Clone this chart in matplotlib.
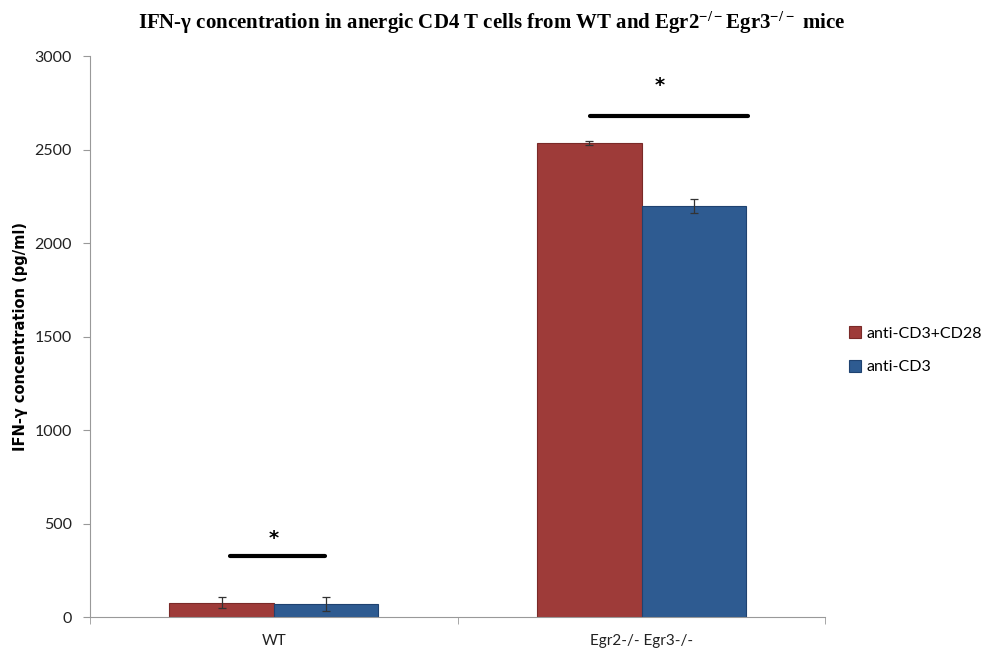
import numpy as np
import matplotlib.pyplot as plt

plt.rcParams['font.family'] = ['Lato', 'DejaVu Sans']

# data
groups = ['WT', 'Egr2-/- Egr3-/-']
series = ['anti-CD3+CD28', 'anti-CD3']
values = {'anti-CD3+CD28': [78, 2536], 'anti-CD3': [70, 2200]}
errors = {'anti-CD3+CD28': [28, 10], 'anti-CD3': [35, 38]}
colors = {'anti-CD3+CD28': '#9E3B39', 'anti-CD3': '#2E5B91'}
edges = {'anti-CD3+CD28': '#7A2A28', 'anti-CD3': '#1F4270'}

# significance bars: (x start, x end, y level) in category units
sig_lines = [(-0.12, 0.14, 326), (0.86, 1.29, 2680)]
sig_stars = [(0.0, 370), (1.05, 2790)]

fig = plt.figure(figsize=(9.83, 6.53), dpi=100)
ax = fig.add_axes([0.0916, 0.055, 0.748, 0.859])

x = np.arange(len(groups))
w = 0.284
for i, s in enumerate(series):
    off = (i - 0.5) * w
    ax.bar(x + off, values[s], w, color=colors[s], edgecolor=edges[s], linewidth=0.8,
           label=s, zorder=2)
    ax.errorbar(x + off, values[s], yerr=errors[s], fmt='none', ecolor='#333333',
                elinewidth=0.9, capsize=3, capthick=0.9, zorder=3)

for x0, x1, y in sig_lines:
    ax.plot([x0, x1], [y, y], color='black', lw=3, solid_capstyle='round', zorder=4)
for xs, ys in sig_stars:
    ax.text(xs, ys, '*', ha='center', va='bottom', fontsize=14, fontweight='bold',
            family='DejaVu Sans')

ax.set_xlim(-0.5, 1.5)
ax.set_ylim(0, 3000)
ax.set_yticks(np.arange(0, 3001, 500))
ax.set_xticks(x)
ax.set_xticklabels(groups)
ax.set_xticks([-0.5, 0.5, 1.5], minor=True)
ax.tick_params(axis='x', which='major', length=0, pad=12, labelsize=11, colors='#222222')
ax.tick_params(axis='x', which='minor', length=5, color='#999999')
ax.tick_params(axis='y', length=5, color='#999999', labelsize=11.5, colors='#222222', pad=8)
for sp in ['top', 'right']:
    ax.spines[sp].set_visible(False)
for sp in ['left', 'bottom']:
    ax.spines[sp].set_color('#999999')

ax.set_ylabel('IFN-γ concentration (pg/ml)', fontsize=10.5, fontweight='bold', labelpad=5,
              family='DejaVu Sans')

plt.rcParams['mathtext.fontset'] = 'custom'
plt.rcParams['mathtext.rm'] = 'Liberation Serif'
fig.text(0.5, 0.965, r'IFN-γ concentration in anergic CD4 T cells from WT and Egr2$\mathregular{^{-/-}}$Egr3$\mathregular{^{-/-}}$ mice',
         ha='center', va='center', fontsize=15, fontweight='bold', family='Liberation Serif')

ax.legend(loc='center left', bbox_to_anchor=(1.012, 0.476), frameon=False, fontsize=11.5,
          handlelength=0.8, handleheight=0.8, handletextpad=0.3, labelspacing=1.2)

plt.savefig('out.png', dpi=100)
